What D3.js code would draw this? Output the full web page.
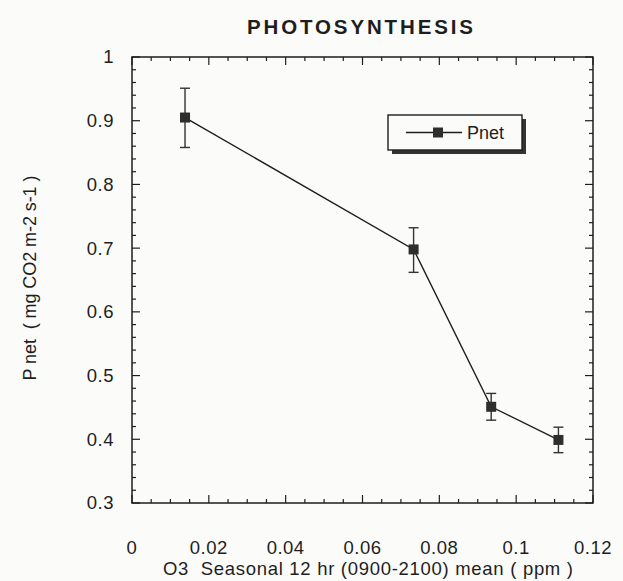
<!DOCTYPE html>
<html lang="en">
<head>
    <meta charset="UTF-8">
    <script src="https://d3js.org/d3.v7.min.js"></script>
    <style>
        body { margin: 0; background: #fbfbf9; }
        svg { font-family: "Liberation Sans", Arial, sans-serif; }
    </style>
</head>
<body>
    <svg width="623" height="581"></svg>

    <script>
        // data
        const ozone = [0.0138, 0.0733, 0.0935, 0.1110];
        const pnet = [0.905, 0.698, 0.451, 0.399];
        const errLow = [0.858, 0.662, 0.430, 0.379];
        const errHigh = [0.951, 0.732, 0.472, 0.419];
        const xTicks = [0, 0.02, 0.04, 0.06, 0.08, 0.1, 0.12];
        const yTicks = [0.3, 0.4, 0.5, 0.6, 0.7, 0.8, 0.9, 1];

        const svg = d3.select("svg");
        const margin = { top: 57, right: 30, bottom: 78, left: 132 };
        const width = 623, height = 581;
        const ink = "#1e1e1e";

        const x = d3.scaleLinear().domain([0, 0.12]).range([margin.left, width - margin.right]);
        const y = d3.scaleLinear().domain([0.3, 1]).range([height - margin.bottom, margin.top]);

        const points = ozone.map((d, i) => ({ x: d, y: pnet[i], lo: errLow[i], hi: errHigh[i] }));

        // frame
        svg.append("rect")
            .attr("x", x(0)).attr("y", y(1))
            .attr("width", x(0.12) - x(0)).attr("height", y(0.3) - y(1))
            .attr("fill", "none").attr("stroke", ink).attr("stroke-width", 1.5);

        // inward ticks, minor and major
        const xMinor = d3.range(0, 0.1201, 0.005);
        svg.append("g").selectAll("line").data(xMinor).enter().append("line")
            .attr("x1", d => x(d)).attr("x2", d => x(d))
            .attr("y1", y(0.3)).attr("y2", (d, i) => y(0.3) - (i % 4 === 0 ? 8 : 4))
            .attr("stroke", ink).attr("stroke-width", 1.2);
        svg.append("g").selectAll("line").data(xMinor).enter().append("line")
            .attr("x1", d => x(d)).attr("x2", d => x(d))
            .attr("y1", y(1)).attr("y2", (d, i) => y(1) + (i % 4 === 0 ? 8 : 4))
            .attr("stroke", ink).attr("stroke-width", 1.2);

        const yMinor = d3.range(0.3, 1.0001, 0.02);
        svg.append("g").selectAll("line").data(yMinor).enter().append("line")
            .attr("y1", d => y(d)).attr("y2", d => y(d))
            .attr("x1", x(0)).attr("x2", (d, i) => x(0) + (i % 5 === 0 ? 8 : 4))
            .attr("stroke", ink).attr("stroke-width", 1.2);
        svg.append("g").selectAll("line").data(yMinor).enter().append("line")
            .attr("y1", d => y(d)).attr("y2", d => y(d))
            .attr("x1", x(0.12)).attr("x2", (d, i) => x(0.12) - (i % 5 === 0 ? 8 : 4))
            .attr("stroke", ink).attr("stroke-width", 1.2);

        // tick labels
        svg.append("g").selectAll("text").data(xTicks).enter().append("text")
            .attr("x", d => x(d)).attr("y", 554)
            .attr("text-anchor", "middle")
            .attr("font-size", 18.5).attr("letter-spacing", 0.5).attr("fill", ink)
            .text(d => d);
        svg.append("g").selectAll("text").data(yTicks).enter().append("text")
            .attr("x", 114).attr("y", d => y(d)).attr("dy", "0.35em")
            .attr("text-anchor", "end")
            .attr("font-size", 18.5).attr("letter-spacing", 0.5).attr("fill", ink)
            .text(d => d);

        // error bars
        const cap = 5;
        const eb = svg.append("g").attr("stroke", "#333").attr("stroke-width", 1.4);
        eb.selectAll(".v").data(points).enter().append("line")
            .attr("x1", d => x(d.x)).attr("x2", d => x(d.x))
            .attr("y1", d => y(d.lo)).attr("y2", d => y(d.hi));
        eb.selectAll(".t").data(points).enter().append("line")
            .attr("x1", d => x(d.x) - cap).attr("x2", d => x(d.x) + cap)
            .attr("y1", d => y(d.hi)).attr("y2", d => y(d.hi));
        eb.selectAll(".b").data(points).enter().append("line")
            .attr("x1", d => x(d.x) - cap).attr("x2", d => x(d.x) + cap)
            .attr("y1", d => y(d.lo)).attr("y2", d => y(d.lo));

        // line and markers
        svg.append("path").datum(points)
            .attr("d", d3.line().x(d => x(d.x)).y(d => y(d.y)))
            .attr("fill", "none").attr("stroke", ink).attr("stroke-width", 1.4);
        const ms = 10;
        svg.append("g").selectAll("rect").data(points).enter().append("rect")
            .attr("x", d => x(d.x) - ms / 2).attr("y", d => y(d.y) - ms / 2)
            .attr("width", ms).attr("height", ms)
            .attr("fill", "#2e2e2e");

        // legend with drop shadow
        const lg = svg.append("g").attr("transform", "translate(388,115)");
        lg.append("rect").attr("x", 4).attr("y", 4).attr("width", 134).attr("height", 35).attr("fill", "#333");
        lg.append("rect").attr("width", 134).attr("height", 35)
            .attr("fill", "#fbfbf9").attr("stroke", ink).attr("stroke-width", 1.4);
        lg.append("line").attr("x1", 18).attr("x2", 74).attr("y1", 17.5).attr("y2", 17.5)
            .attr("stroke", ink).attr("stroke-width", 1.4);
        lg.append("rect").attr("x", 45).attr("y", 12.5).attr("width", 10).attr("height", 10).attr("fill", "#2e2e2e");
        lg.append("text").attr("x", 79).attr("y", 17.5).attr("dy", "0.35em")
            .attr("font-size", 18).attr("fill", ink).text("Pnet");

        // titles
        svg.append("text").attr("x", 360).attr("y", 27).attr("dy", "0.35em")
            .attr("text-anchor", "middle").attr("font-weight", "bold")
            .attr("font-size", 20.5).attr("fill", ink)
            .attr("textLength", 226).attr("lengthAdjust", "spacing")
            .text("PHOTOSYNTHESIS");
        svg.append("text").attr("x", 368).attr("y", 569).attr("dy", "0.35em")
            .attr("text-anchor", "middle").attr("font-size", 18.5).attr("fill", ink)
            .attr("xml:space", "preserve")
            .attr("textLength", 410).attr("lengthAdjust", "spacing")
            .text("O3  Seasonal 12 hr (0900-2100) mean ( ppm )");
        svg.append("text")
            .attr("transform", "translate(30,278) rotate(-90)")
            .attr("dy", "0.35em").attr("text-anchor", "middle")
            .attr("font-size", 18).attr("fill", ink)
            .attr("xml:space", "preserve")
            .attr("textLength", 205).attr("lengthAdjust", "spacing")
            .text("P net  ( mg CO2 m-2 s-1 )");
    </script>
</body>
</html>
